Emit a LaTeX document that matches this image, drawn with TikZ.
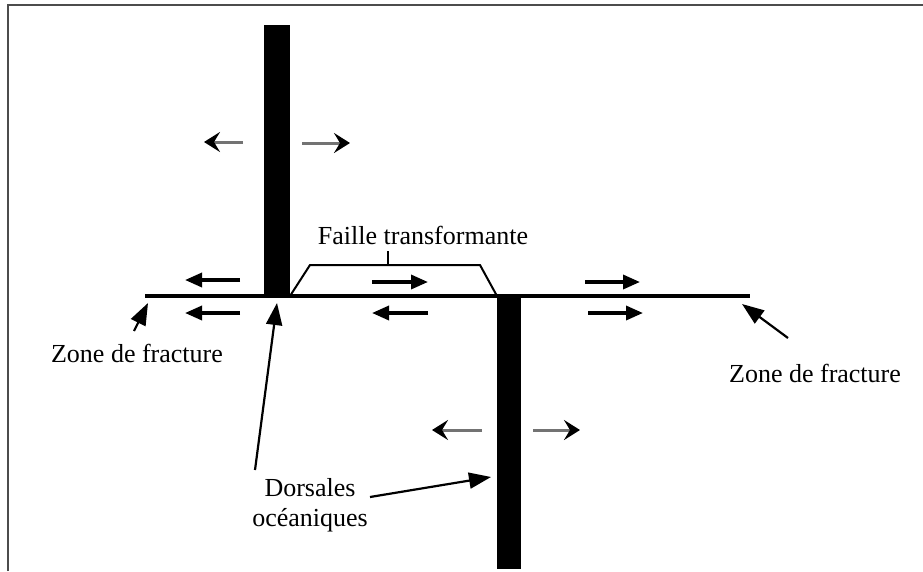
\documentclass[tikz,border=0pt]{standalone}
\usepackage{fontspec}
\setmainfont{Liberation Serif}
\usetikzlibrary{arrows.meta}

\begin{document}
\begin{tikzpicture}[x=1pt, y=-1pt,
    lbl/.style={font=\fontsize{26}{30}\selectfont, inner sep=0pt, align=center},
    slip/.style={line width=3.4pt, -{Triangle[length=17pt,width=14pt]}},
    spread/.style={line width=3pt, draw=black!55, -{Stealth[length=16pt,width=20pt,inset=6pt,black]}},
    pointer/.style={line width=2.2pt, -{Triangle[length=22pt,width=16pt]}}]
    % Page size and frame (top and left edges only)
    \useasboundingbox (0,0) rectangle (923,571);
    \draw[line width=1.8pt, black!70] (8,571) -- (8,5) -- (923,5);

    % Ridge segments
    \fill (264,25) rectangle (290,296);
    \fill (497,296) rectangle (521,569);

    % Fracture line
    \draw[line width=4.5pt] (145,296) -- (750,296);

    % Transform fault bracket
    \draw[line width=2pt] (290,296) -- (310,265) -- (480,265) -- (497,296);
    \draw[line width=2pt] (388,265) -- (388,251);

    % Spreading at the ridges
    \draw[spread] (243,142) -- (204,142);
    \draw[spread] (302,143) -- (350,143);
    \draw[spread] (482,430) -- (432,430);
    \draw[spread] (533,430) -- (580,430);

    % Relative motion along the fracture line
    \foreach \y in {280,313} {
        \draw[slip] (240,\y) -- (185,\y);
    }
    \draw[slip] (372,282) -- (428,282);
    \draw[slip] (428,313) -- (372,313);
    \draw[slip] (585,282) -- (640,282);
    \draw[slip] (588,313) -- (643,313);

    % Labels
    \node[lbl] (faille) at (423,235) {Faille transformante};
    \node[lbl] (zoneL) at (137,353) {Zone de fracture};
    \node[lbl] (zoneR) at (815,373) {Zone de fracture};
    \node[lbl] (dorsales) at (310,505) {Dorsales\\oc\'eaniques};

    % Pointer arrows
    \coordinate (zoneLtail) at (134,331);
    \coordinate (zoneLtip) at (148,303);
    \coordinate (zoneRtail) at (788,338);
    \coordinate (zoneRtip) at (742,304);
    \coordinate (dorsAtail) at (255,470);
    \coordinate (dorsAtip) at (277,303);
    \coordinate (dorsBtail) at (370,497);
    \coordinate (dorsBtip) at (491,477);
    \draw[pointer] (zoneLtail) -- (zoneLtip);
    \draw[pointer] (zoneRtail) -- (zoneRtip);
    \draw[pointer] (dorsAtail) -- (dorsAtip);
    \draw[pointer] (dorsBtail) -- (dorsBtip);
\end{tikzpicture}
\end{document}
